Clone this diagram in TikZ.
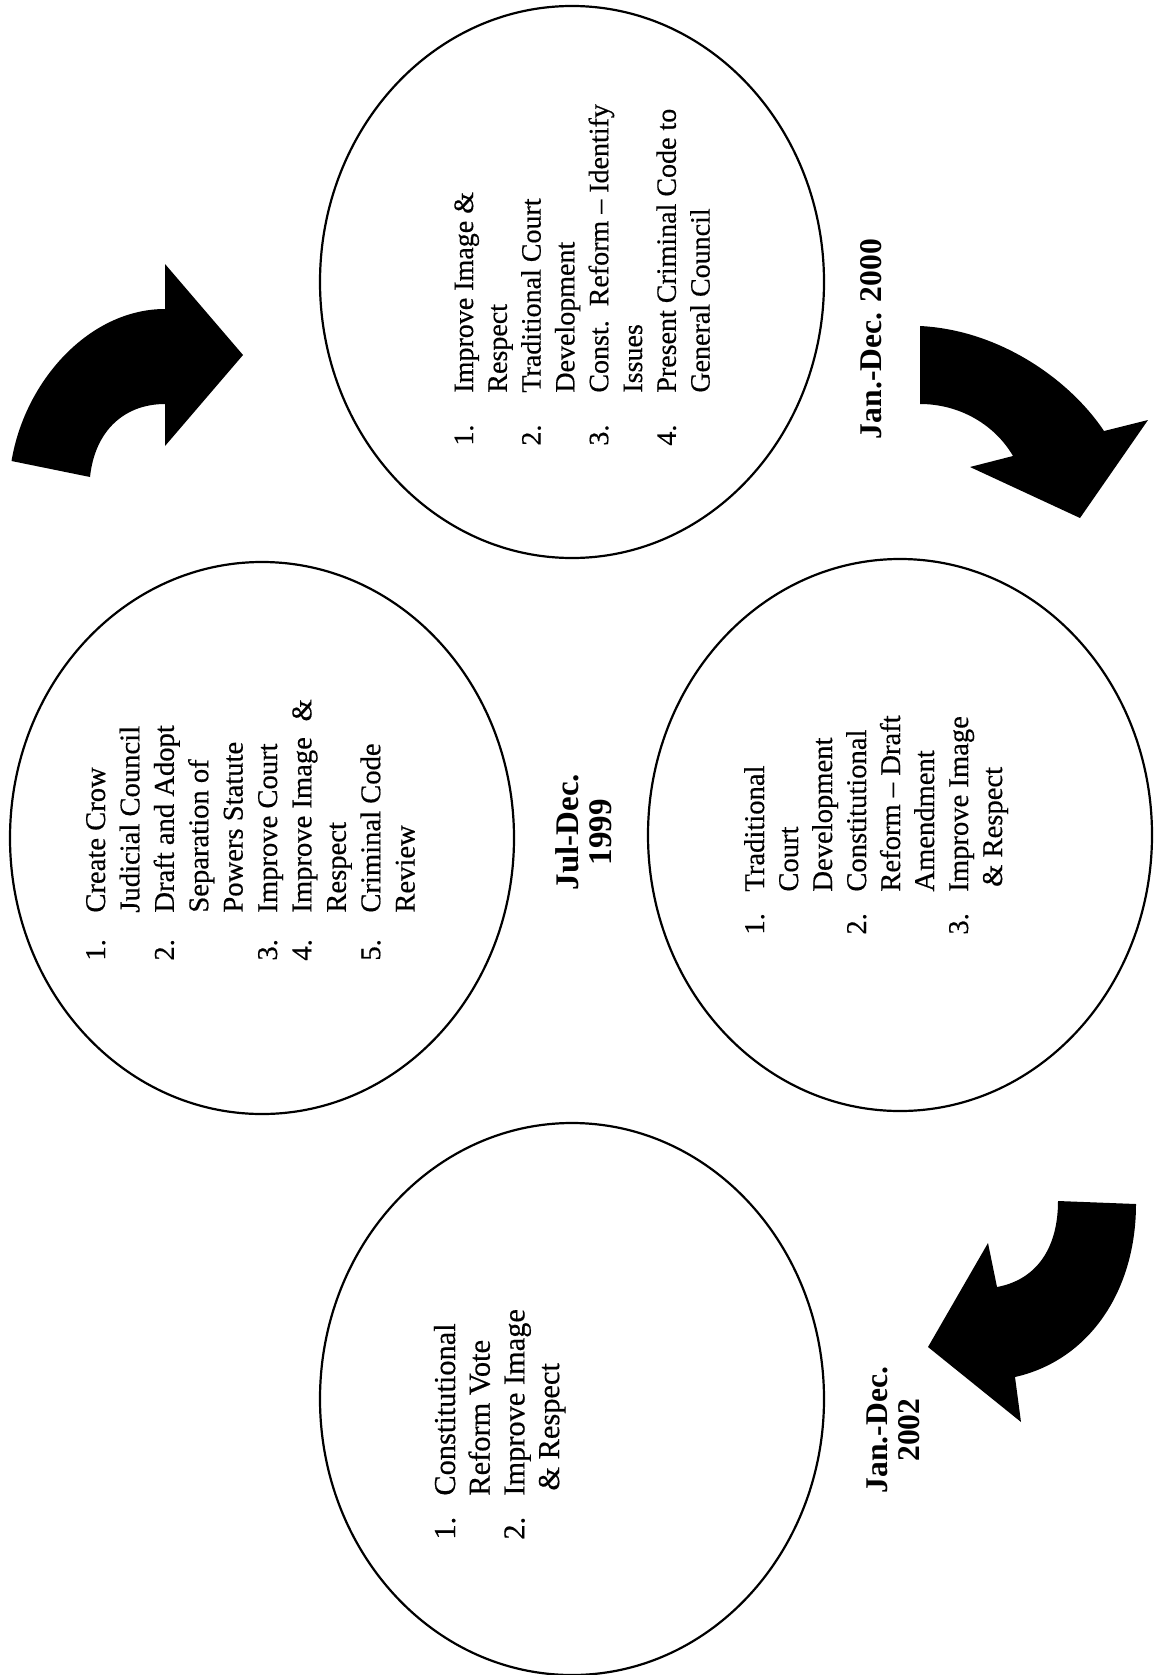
\documentclass[tikz,border=0pt]{standalone}
\usepackage{fontspec}
\setmainfont{Liberation Serif}
\newfontfamily\scanfont[FakeBold=0.5]{Liberation Serif}
\usetikzlibrary{shapes.geometric}
\begin{document}
\begin{tikzpicture}[x={(0.5pt,0)}, y={(0,-0.5pt)},
  ring/.style={draw=black, line width=1.1pt, ellipse, minimum width=252pt, minimum height=276pt, inner sep=0pt},
  blockarrow/.style={fill=black, draw=none},
  itemlist/.style={rotate=90, anchor=base west, inner sep=0pt},
  datelabel/.style={rotate=90, anchor=center, inner sep=0pt, align=center}]
\fill[white] (0,0) rectangle (1156,1675);
\useasboundingbox (0,0) rectangle (1156,1675);

% circles
\node[ring] (c1) at (572,282) {};
\node[ring] (c2) at (262,838) {};
\node[ring] (c3) at (900,835) {};
\node[ring] (c4) at (572,1399) {};

% lists
\node[itemlist, font=\scanfont\fontsize{14}{16.9}\selectfont] (t1) at (473,446) {%
\begin{tabular}[t]{@{}p{26.5pt}@{}l@{}}
1. & Improve Image \& \\
   & Respect \\
2. & Traditional Court \\
   & Development \\
3. & Const.\ \ Reform – Identify \\
   & Issues \\
4. & Present Criminal Code to \\
   & General Council
\end{tabular}};

\node[itemlist, font=\scanfont\fontsize{14.3}{17.2}\selectfont] (t2) at (105,961) {%
\begin{tabular}[t]{@{}p{24pt}@{}l@{}}
1. & Create Crow \\
   & Judicial Council \\
2. & Draft and Adopt \\
   & Separation of \\
   & Powers Statute \\
3. & Improve Court \\
4. & Improve Image\hspace{0.55em}\& \\
   & Respect \\
5. & Criminal Code \\
   & Review
\end{tabular}};

\node[itemlist, font=\scanfont\fontsize{14.3}{17}\selectfont] (t3) at (764,935) {%
\begin{tabular}[t]{@{}p{21.5pt}@{}l@{}}
1. & Traditional \\
   & Court \\
   & Development \\
2. & Constitutional \\
   & Reform – Draft \\
   & Amendment \\
3. & Improve Image \\
   & \,\& Respect
\end{tabular}};

\node[itemlist, font=\scanfont\fontsize{15.2}{17.35}\selectfont] (t4) at (455,1540) {%
\begin{tabular}[t]{@{}p{22pt}@{}l@{}}
1. & Constitutional \\
   & Reform Vote \\
2. & Improve Image \\
   & \,\& Respect
\end{tabular}};

% date labels
\node[datelabel, font=\bfseries\fontsize{15.8}{16}\selectfont] (d2000) at (871,339) {Jan.-Dec. 2000};
\node[datelabel, font=\bfseries\fontsize{16.5}{16.5}\selectfont] (d1999) at (584,832) {Jul-Dec.\\1999};
\node[datelabel, font=\bfseries\fontsize{15.8}{16}\selectfont] (d2002) at (893,1430) {Jan.-Dec.\\2002};

% block arrows
\fill[blockarrow] (11.5,461) .. controls (25,380) and (90,309) .. (165,309)
  -- (165,264) -- (243,355) -- (165,446) -- (165,404)
  .. controls (125,404) and (95,430) .. (90,477) -- cycle;
\fill[blockarrow] (920,326) .. controls (1000,330) and (1070,380) .. (1104,431)
  -- (1148,420) -- (1080,518) -- (970,467) -- (1013,456)
  .. controls (995,425) and (960,404) .. (920,404) -- cycle;
\fill[blockarrow] (1058,1201) .. controls (1058,1250) and (1035,1280) .. (997,1287)
  -- (988,1243) -- (928,1347) -- (1021,1422) -- (1015,1377)
  .. controls (1090,1360) and (1136,1290) .. (1136,1204) -- cycle;
\end{tikzpicture}
\end{document}
